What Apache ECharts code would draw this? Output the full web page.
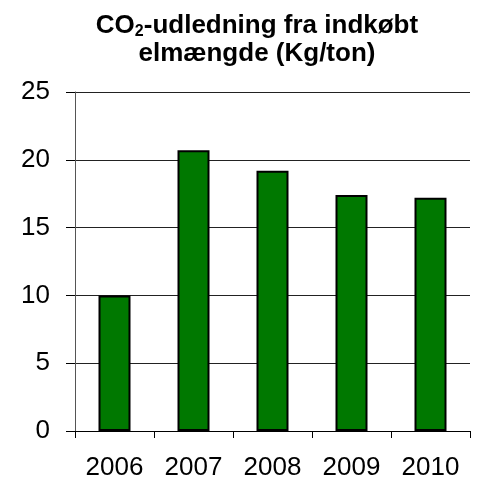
<!DOCTYPE html>
<html>
<head>
<meta charset="utf-8">
<script src="https://cdn.jsdelivr.net/npm/echarts@6/dist/echarts.min.js"></script>
<style>
  html, body { margin: 0; padding: 0; background: #fff; }
  #chart { width: 483px; height: 486px; }
</style>
</head>
<body>
<div id="chart"></div>
<script>
// data
var years = ['2006', '2007', '2008', '2009', '2010'];
var co2 = [10.0, 20.7, 19.2, 17.4, 17.2];

var myChart = echarts.init(document.getElementById('chart'));

var option = {
  animation: false,
  title: {
    text: '{a|CO}{sub|2}{a|-udledning fra indkøbt}\n{a|elmængde (Kg/ton)}',
    left: 252,
    textAlign: 'center',
    top: 7,
    textStyle: {
      rich: {
        a: { fontFamily: 'Liberation Sans', fontWeight: 'bold', fontSize: 26, color: '#000', lineHeight: 28 },
        sub: { fontFamily: 'Liberation Sans', fontWeight: 'bold', fontSize: 16, color: '#000', padding: [12, 0, 0, 0], lineHeight: 28 }
      }
    }
  },
  grid: { left: 75, right: 13, top: 92, bottom: 55 },
  xAxis: {
    type: 'category',
    data: years,
    axisLine: { lineStyle: { color: '#000', width: 1 } },
    axisTick: { show: true, length: 7, lineStyle: { color: '#000' } },
    axisLabel: { fontFamily: 'Liberation Sans', fontSize: 26, color: '#000', margin: 24 }
  },
  yAxis: {
    type: 'value',
    min: 0,
    max: 25,
    interval: 5,
    axisLine: { show: true, lineStyle: { color: '#555', width: 1 } },
    axisTick: { show: true, length: 9, lineStyle: { color: '#000' } },
    axisLabel: { fontFamily: 'Liberation Sans', fontSize: 26, color: '#000', margin: 25 },
    splitLine: { lineStyle: { color: '#222', width: 1 } }
  },
  series: [{
    type: 'bar',
    data: co2,
    barWidth: 32,
    itemStyle: { color: '#007800', borderColor: '#000', borderWidth: 2 }
  }]
};

myChart.setOption(option);
</script>
</body>
</html>
